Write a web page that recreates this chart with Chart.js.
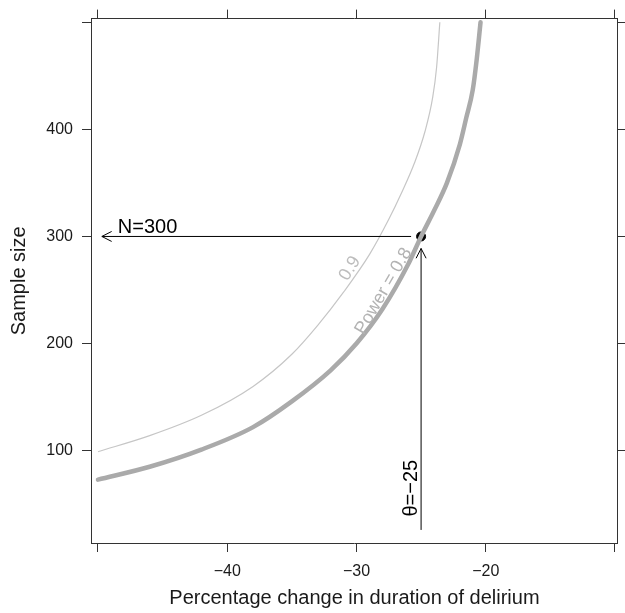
<html>
<head>
  <title>Sample size vs percentage change</title>
  <script src="https://cdn.jsdelivr.net/npm/chart.js"></script>
  <style>
    body { margin: 0; background: #fff; }
  </style>
</head>
<body>
  <canvas id="powerChart" width="625" height="613"></canvas>

  <script>
    // curve: power = 0.8 (thick) and 0.9 (thin)
    const theta08 = [-50, -46, -42, -38, -35, -32, -30, -28, -26, -25, -24, -23, -22, -21.5, -21, -20.7, -20.4];
    const n08 = [73, 85, 101, 122, 146, 175, 200, 232, 274, 300, 324, 350, 386, 411, 437, 465, 500];
    const theta09 = [-50, -46, -42, -38, -35, -33, -31, -29, -27.5, -26.5, -25.5, -24.7, -24.1, -23.8, -23.55];
    const n09 = [99, 114, 133, 160, 190, 217, 248, 283, 316, 341, 369, 398, 430, 458, 500];

    // axes
    const xTicks = [-50, -40, -30, -20, -10];
    const xLabels = ["", "\u221240", "\u221230", "\u221220", ""];
    const yTicks = [100, 200, 300, 400, 500];
    const yLabels = ["100", "200", "300", "400", ""];

    // design point
    const targetTheta = -25;
    const targetN = 300;
    const nArrowEnd = -49.7;
    const thetaArrowStart = 26;

    const FONT = "'Liberation Sans', Arial, Helvetica, sans-serif";
    const ink = "#1a1a1a";

    const toPoints = (xs, ys) => xs.map((x, i) => ({ x: x, y: ys[i] }));

    function fixTicks(values) {
      return scale => { scale.ticks = values.map(v => ({ value: v })); };
    }

    function arrowHead(ctx, x, y, angle) {
      const len = 11, spread = 27 * Math.PI / 180;
      ctx.beginPath();
      ctx.moveTo(x + len * Math.cos(angle - spread), y + len * Math.sin(angle - spread));
      ctx.lineTo(x, y);
      ctx.lineTo(x + len * Math.cos(angle + spread), y + len * Math.sin(angle + spread));
      ctx.stroke();
    }

    function rotatedText(ctx, text, x, y, deg, color, size) {
      ctx.save();
      ctx.translate(x, y);
      ctx.rotate(deg * Math.PI / 180);
      ctx.fillStyle = color;
      ctx.font = size + "px " + FONT;
      ctx.textAlign = "center";
      ctx.textBaseline = "middle";
      ctx.fillText(text, 0, 0);
      ctx.restore();
    }

    const annotations = {
      id: "annotations",
      afterDatasetsDraw(chart) {
        const ctx = chart.ctx;
        const xs = chart.scales.x, ys = chart.scales.y;
        const px = xs.getPixelForValue(targetTheta);
        const py = ys.getPixelForValue(targetN);

        ctx.save();
        ctx.strokeStyle = "#000";
        ctx.lineWidth = 1;

        // horizontal arrow to N axis
        const hx = xs.getPixelForValue(nArrowEnd);
        ctx.beginPath();
        ctx.moveTo(px - 10, py);
        ctx.lineTo(hx, py);
        ctx.stroke();
        arrowHead(ctx, hx, py, 0);

        // vertical arrow from theta
        const vy = ys.getPixelForValue(thetaArrowStart);
        ctx.beginPath();
        ctx.moveTo(px, vy);
        ctx.lineTo(px, py + 12);
        ctx.stroke();
        arrowHead(ctx, px, py + 12, Math.PI / 2);

        ctx.fillStyle = "#000";
        ctx.font = "20px " + FONT;
        ctx.textAlign = "left";
        ctx.textBaseline = "alphabetic";
        ctx.fillText("N=" + targetN, hx + 16, py - 3);

        rotatedText(ctx, "\u03b8=\u2212" + Math.abs(targetTheta), px - 10, ys.getPixelForValue(65), -90, "#000", 20);

        // curve labels
        rotatedText(ctx, "0.9", xs.getPixelForValue(-30.5), ys.getPixelForValue(270), -58, "#bdbdbd", 18);
        rotatedText(ctx, "Power = 0.8", xs.getPixelForValue(-27.9), ys.getPixelForValue(249), -60, "#b3b3b3", 18);
        ctx.restore();
      }
    };

    const gridStyle = { display: true, drawOnChartArea: false, drawTicks: true, tickLength: 9, color: "#333", lineWidth: 1 };
    const borderStyle = { display: true, color: "#333", width: 1 };

    new Chart(document.getElementById("powerChart"), {
      type: "scatter",
      data: {
        datasets: [
          {
            label: "Power = 0.9",
            data: toPoints(theta09, n09),
            showLine: true,
            borderColor: "#c6c6c6",
            borderWidth: 1.2,
            pointRadius: 0,
            cubicInterpolationMode: "monotone"
          },
          {
            label: "Power = 0.8",
            data: toPoints(theta08, n08),
            showLine: true,
            borderColor: "#aaaaaa",
            borderWidth: 4.5,
            borderCapStyle: "round",
            pointRadius: 0,
            cubicInterpolationMode: "monotone"
          },
          {
            label: "Design",
            data: [{ x: targetTheta, y: targetN }],
            showLine: false,
            pointRadius: 4.5,
            backgroundColor: "#000",
            borderColor: "#000"
          }
        ]
      },
      options: {
        responsive: false,
        animation: false,
        maintainAspectRatio: false,
        layout: { padding: 0 },
        plugins: { legend: { display: false }, tooltip: { enabled: false } },
        scales: {
          x: {
            type: "linear", position: "bottom", min: -50.54, max: -9.77,
            afterBuildTicks: fixTicks(xTicks),
            afterFit: s => { s.height = 70; },
            grid: gridStyle, border: borderStyle,
            ticks: {
              autoSkip: false, maxRotation: 0, padding: 10, color: ink,
              font: { family: FONT, size: 16 },
              callback: (v) => xLabels[xTicks.indexOf(v)]
            },
            title: {
              display: true, text: "Percentage change in duration of delirium",
              color: ink, font: { family: FONT, size: 20 }, padding: { top: 0, bottom: 3 }
            }
          },
          x2: {
            type: "linear", axis: "x", position: "top", min: -50.54, max: -9.77,
            afterBuildTicks: fixTicks(xTicks),
            afterFit: s => { s.height = 18; },
            grid: gridStyle, border: borderStyle,
            ticks: { callback: () => "" }
          },
          y: {
            type: "linear", position: "left", min: 13.8, max: 503.4,
            afterBuildTicks: fixTicks(yTicks),
            afterFit: s => { s.width = 91; },
            grid: gridStyle, border: borderStyle,
            ticks: {
              autoSkip: false, padding: 9, color: ink,
              font: { family: FONT, size: 16 },
              callback: (v) => yLabels[yTicks.indexOf(v)]
            },
            title: {
              display: true, text: "Sample size",
              color: ink, font: { family: FONT, size: 20 }, padding: { top: 7, bottom: 7 }
            }
          },
          y2: {
            type: "linear", axis: "y", position: "right", min: 13.8, max: 503.4,
            afterBuildTicks: fixTicks(yTicks),
            afterFit: s => { s.width = 4; },
            grid: gridStyle, border: borderStyle,
            ticks: { callback: () => "" }
          }
        }
      },
      plugins: [annotations]
    });
  </script>
</body>
</html>
